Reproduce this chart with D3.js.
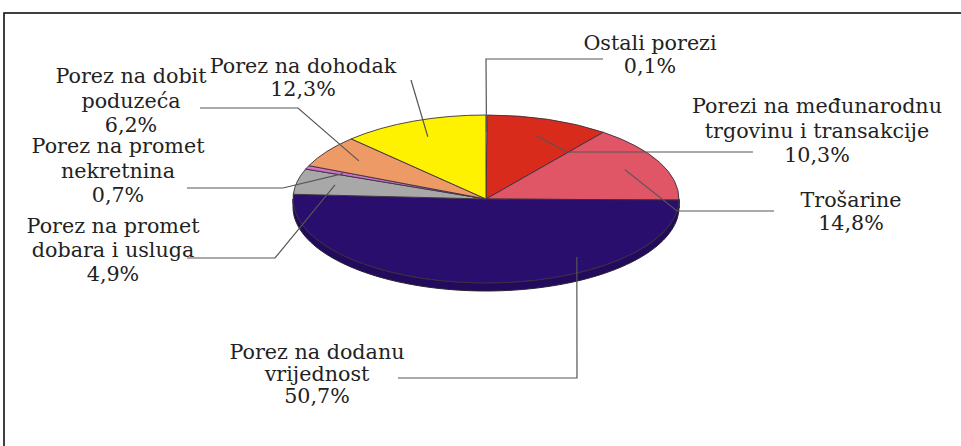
<!DOCTYPE html>
<html>
<head>
<meta charset="utf-8">
<script src="https://cdn.jsdelivr.net/npm/d3@7"></script>
<style>
  body { margin: 0; background: #fff; }
  svg { display: block; }
</style>
</head>
<body>
<svg id="chart"></svg>
<script>
// tax revenue structure, shares in %
var categories = ["Ostali porezi", "Porezi na međunarodnu trgovinu i transakcije", "Trošarine",
    "Porez na dodanu vrijednost", "Porez na promet dobara i usluga", "Porez na promet nekretnina",
    "Porez na dobit poduzeća", "Porez na dohodak"];
var shares = [0.1, 10.3, 14.8, 50.7, 4.9, 0.7, 6.2, 12.3];
var labelLines = [["Ostali porezi"], ["Porezi na međunarodnu", "trgovinu i transakcije"], ["Trošarine"],
    ["Porez na dodanu", "vrijednost"], ["Porez na promet", "dobara i usluga"], ["Porez na promet", "nekretnina"],
    ["Porez na dobit", "poduzeća"], ["Porez na dohodak"]];

var colors = ["#ffffff", "#d92b1c", "#e05667", "#2a0e6e", "#a8a8a8", "#d070c8", "#ee9a66", "#fff200"];
var sideColors = ["#dddddd", "#b02010", "#b84050", "#220a5c", "#888888", "#a050a0", "#c87a4c", "#d0c400"];

// label placement (x centre, first baseline, line gap, elbow, end of leader)
var layout = [
    {x: 650, y: 50, gap: 23, elbow: [486, 59], end: [603, 59]},
    {x: 817, y: 113, gap: 24.5, elbow: [567, 152], end: [753, 152]},
    {x: 851, y: 207, gap: 23, elbow: [677, 211], end: [774, 211]},
    {x: 317, y: 359, gap: 22, elbow: [577, 378], end: [398, 378], anchorAngle: 145.7, anchorR: 0.835},
    {x: 113, y: 233, gap: 24, elbow: [275, 258], end: [187, 258]},
    {x: 118, y: 153, gap: 24.5, elbow: [283, 188], end: [187, 188]},
    {x: 131, y: 83, gap: 24.5, elbow: [298, 108], end: [200, 108]},
    {x: 303, y: 73, gap: 23, elbow: [411, 80], end: [411, 80]}
];

var screen = {width: 961, height: 446};
var pieGeo = {cx: 486, cy: 199, rx: 193, ry: 84, depth: 8};

var svg = d3.select("#chart")
    .attr("width", screen.width)
    .attr("height", screen.height);

// frame (only top and left edges are in view)
svg.append("rect")
    .attr("x", 4).attr("y", 13)
    .attr("width", 1000).attr("height", 500)
    .attr("fill", "none")
    .attr("stroke", "#111")
    .attr("stroke-width", 1.6);

var locale = d3.formatLocale({decimal: ",", thousands: ".", grouping: [3], currency: ["", ""]});
var fmt = locale.format(".1f");

var slices = d3.pie().sort(null).value(function(d) { return d; })(shares);

var proj = function(angle, r) {
    return [pieGeo.cx + pieGeo.rx * r * Math.sin(angle), pieGeo.cy - pieGeo.ry * r * Math.cos(angle)];
};

// side wall of the disc (visible half, angles 90..270 deg)
var side = svg.append("g");
slices.forEach(function(s, i) {
    var a0 = Math.max(s.startAngle, Math.PI / 2);
    var a1 = Math.min(s.endAngle, Math.PI * 3 / 2);
    if (a0 >= a1) return;
    var steps = 80, pts = [];
    for (var k = 0; k <= steps; k++) pts.push(proj(a0 + (a1 - a0) * k / steps, 1));
    for (var k = steps; k >= 0; k--) {
        var p = proj(a0 + (a1 - a0) * k / steps, 1);
        pts.push([p[0], p[1] + pieGeo.depth]);
    }
    side.append("path")
        .attr("d", d3.line()(pts) + "Z")
        .attr("fill", sideColors[i])
        .attr("stroke", "#2a2030")
        .attr("stroke-width", 1);
});

// top face
var arc = d3.arc().innerRadius(0).outerRadius(pieGeo.rx);
svg.append("g")
    .attr("transform", "translate(" + pieGeo.cx + "," + pieGeo.cy + ") scale(1," + (pieGeo.ry / pieGeo.rx) + ")")
    .selectAll("path")
    .data(slices)
    .enter()
    .append("path")
    .attr("d", arc)
    .attr("fill", function(d, i) { return colors[i]; })
    .attr("stroke", function(d, i) { return i == 0 ? "none" : "#3a3040"; })
    .attr("stroke-width", 0.9)
    .attr("vector-effect", "non-scaling-stroke");

// leader lines
svg.append("g")
    .selectAll("path")
    .data(slices)
    .enter()
    .append("path")
    .attr("d", function(s, i) {
        var L = layout[i];
        var start = L.anchorAngle != null
            ? proj(L.anchorAngle * Math.PI / 180, L.anchorR)
            : proj((s.startAngle + s.endAngle) / 2, 0.8);
        return d3.line()([start, L.elbow, L.end]);
    })
    .attr("fill", "none")
    .attr("stroke", "#555")
    .attr("stroke-width", 1.2);

// labels
var labels = svg.append("g")
    .selectAll("g")
    .data(slices)
    .enter()
    .append("g");

labels.each(function(s, i) {
    var L = layout[i];
    var lines = labelLines[i].concat([fmt(shares[i]) + "%"]);
    var g = d3.select(this);
    lines.forEach(function(t, j) {
        g.append("text")
            .style("font-family", "'DejaVu Serif', serif")
            .style("font-size", "19.5px")
            .attr("fill", "#222")
            .attr("text-anchor", "middle")
            .attr("transform", "translate(" + L.x + "," + (L.y + j * L.gap) + ") scale(1.06,1)")
            .text(t);
    });
});
</script>
</body>
</html>
